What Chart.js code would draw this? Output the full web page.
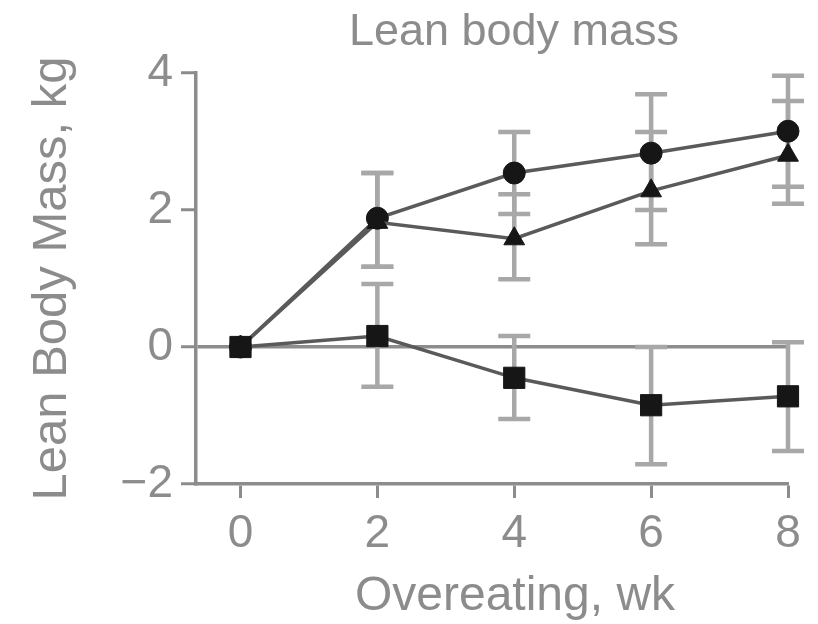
<!DOCTYPE html>
<html>
<head>
<meta charset="utf-8">
<script src="https://cdn.jsdelivr.net/npm/chart.js@4"></script>
<style>
  body { margin: 0; background: #fff; }
  #wrap { width: 818px; height: 624px; }
</style>
</head>
<body>
<div id="wrap"><canvas id="lbm" width="818" height="624"></canvas></div>
<script>
// data
const weeks = [0, 2, 4, 6, 8];
const xTicks = [0, 2, 4, 6, 8];
const yTicks = [-2, 0, 2, 4];

const circleMean = [0, 1.88, 2.54, 2.83, 3.15];
const circleLow  = [0, 1.17, 1.94, 2.00, 2.34];
const circleHigh = [0, 2.54, 3.14, 3.69, 3.96];

const triMean = [0, 1.82, 1.58, 2.28, 2.80];
const triLow  = [0, 1.17, 0.99, 1.50, 2.09];
const triHigh = [0, 2.54, 2.23, 3.14, 3.59];

const sqMean = [0, 0.16, -0.45, -0.85, -0.72];
const sqLow  = [0, -0.58, -1.05, -1.71, -1.52];
const sqHigh = [0, 0.92, 0.16, 0.00, 0.07];

const chartTitle = 'Lean body mass';
const xTitle = 'Overeating, wk';
const yTitle = 'Lean Body Mass, kg';

const grey = '#8c8c8c';
const lineCol = '#5a5a5a';
const markCol = '#161616';
const errCol = '#a8a8a8';
const fontFam = '"Liberation Sans", Arial, sans-serif';

function pts(vals) {
    return weeks.map((w, i) => ({ x: w, y: vals[i] }));
}

const errors = [
    { low: sqLow, high: sqHigh },
    { low: triLow, high: triHigh },
    { low: circleLow, high: circleHigh }
];

// error bars drawn under the lines and markers
const errorBars = {
    id: 'errorBars',
    beforeDatasetsDraw(chart) {
        const ctx = chart.ctx;
        const xs = chart.scales.x;
        const ys = chart.scales.y;
        ctx.save();
        ctx.strokeStyle = errCol;
        ctx.lineWidth = 4.5;
        errors.forEach(e => {
            weeks.forEach((w, i) => {
                if (e.low[i] === e.high[i]) return;
                const x = xs.getPixelForValue(w);
                const y1 = ys.getPixelForValue(e.low[i]);
                const y2 = ys.getPixelForValue(e.high[i]);
                ctx.beginPath();
                ctx.moveTo(x, y1);
                ctx.lineTo(x, y2);
                ctx.moveTo(x - 16, y1);
                ctx.lineTo(x + 16, y1);
                ctx.moveTo(x - 16, y2);
                ctx.lineTo(x + 16, y2);
                ctx.stroke();
            });
        });
        ctx.restore();
    }
};

// the figure's title and x title sit a bit right of the plot centre
const titles = {
    id: 'titles',
    afterDraw(chart) {
        const ctx = chart.ctx;
        ctx.save();
        ctx.fillStyle = grey;
        ctx.textAlign = 'center';
        ctx.textBaseline = 'alphabetic';
        ctx.font = '45px ' + fontFam;
        ctx.fillText(chartTitle, 514, 45);
        ctx.font = '48px ' + fontFam;
        ctx.fillText(xTitle, 515, 610);
        ctx.restore();
    }
};

function series(vals, style, radius) {
    return {
        data: pts(vals),
        borderColor: lineCol,
        borderWidth: 3.5,
        pointStyle: style,
        pointRadius: radius,
        pointBackgroundColor: markCol,
        pointBorderColor: markCol,
        pointBorderWidth: 1,
        tension: 0,
        clip: false
    };
}

new Chart(document.getElementById('lbm'), {
    type: 'line',
    data: {
        datasets: [
            series(sqMean, 'rect', 15),
            series(triMean, 'triangle', 12),
            series(circleMean, 'circle', 11)
        ]
    },
    options: {
        responsive: false,
        animation: false,
        layout: { padding: { left: 0, right: 30, top: 73, bottom: 0 } },
        plugins: {
            legend: { display: false },
            tooltip: { enabled: false },
            title: { display: false }
        },
        scales: {
            x: {
                type: 'linear',
                min: -0.65,
                max: 8,
                afterBuildTicks: s => { s.ticks = xTicks.map(v => ({ value: v })); },
                afterFit: s => { s.height = 140; },
                border: { display: true, color: grey, width: 3.5 },
                grid: { drawOnChartArea: false, drawTicks: true, tickLength: 14, tickColor: grey, tickWidth: 3 },
                ticks: { color: grey, padding: 9, font: { family: fontFam, size: 46 } }
            },
            y: {
                min: -2,
                max: 4,
                afterBuildTicks: s => { s.ticks = yTicks.map(v => ({ value: v })); },
                afterFit: s => { s.width = 196; },
                border: { display: true, color: grey, width: 3.5 },
                grid: {
                    drawOnChartArea: true,
                    color: c => (c.tick && c.tick.value === 0 ? grey : 'rgba(0,0,0,0)'),
                    lineWidth: 3.5,
                    drawTicks: true,
                    tickLength: 15,
                    tickColor: grey,
                    tickWidth: 3
                },
                ticks: {
                    color: grey,
                    padding: 8,
                    font: { family: fontFam, size: 46 },
                    callback: v => (v < 0 ? '\u2212' + Math.abs(v) : String(v))
                },
                title: {
                    display: true,
                    text: yTitle,
                    color: grey,
                    font: { family: fontFam, size: 49 },
                    padding: { top: 23, bottom: 0 }
                }
            }
        }
    },
    plugins: [errorBars, titles]
});
</script>
</body>
</html>
